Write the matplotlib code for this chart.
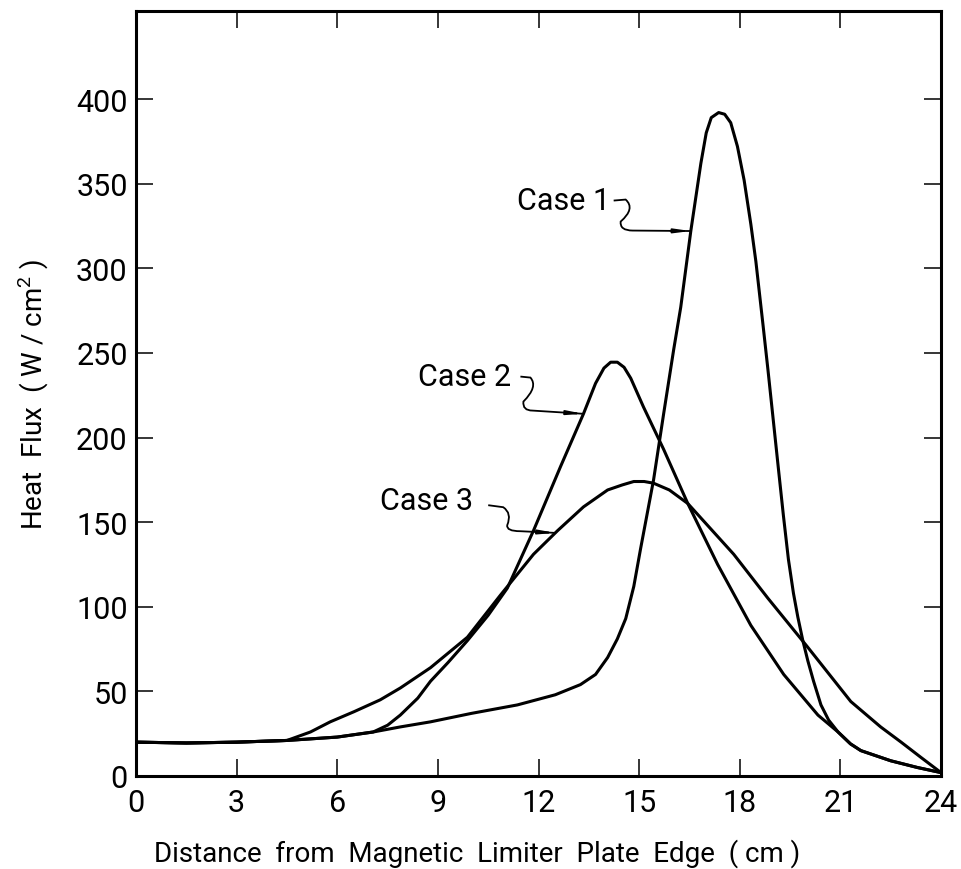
import numpy as np
import matplotlib
matplotlib.use("Agg")
import matplotlib.pyplot as plt
from matplotlib.path import Path
from matplotlib.patches import PathPatch

plt.rcParams['font.family'] = ['Roboto', 'DejaVu Sans']
plt.rcParams['mathtext.fontset'] = 'custom'
plt.rcParams['mathtext.rm'] = 'Roboto'

# distance from plate edge (cm) and heat flux (W/cm^2)
case1_x = [0, 1.5, 3, 4.5, 6, 7.07, 7.88, 8.78, 10, 11.37, 12.5, 13.25, 13.7, 14.06, 14.35,
           14.6, 14.84, 15.04, 15.43, 15.73, 16.03, 16.24, 16.54, 16.84, 17.0, 17.15, 17.37,
           17.55, 17.73, 17.93, 18.13, 18.33, 18.48, 18.69, 18.84, 19.0, 19.16, 19.3, 19.45,
           19.6, 19.73, 19.88, 20.03, 20.2, 20.42, 20.65, 20.93, 21.3, 21.61, 22.5, 23.3, 24]
case1_y = [20, 19.5, 20, 21, 23, 26, 29, 32, 37, 42, 48, 54, 60, 70, 81,
           93, 112, 134, 175, 214, 252, 277, 322, 362, 380, 389, 392,
           391, 386, 372, 352, 326, 304, 267, 240, 210, 180, 154, 128,
           108, 94, 80, 68, 56, 42, 33, 26, 19, 15, 9, 5, 2]

case2_x = [0, 1.5, 3, 4.5, 6, 7.07, 7.5, 7.88, 8.4, 8.78, 9.3, 9.88, 10.5, 11.07, 11.85,
           12.66, 13.34, 13.7, 13.95, 14.15, 14.35, 14.55, 14.75, 15.13, 15.73, 16.45, 17.34,
           18.33, 19.31, 20.33, 20.93, 21.3, 21.61, 22.5, 23.3, 24]
case2_y = [20, 19.5, 20, 21, 23, 26, 30, 36, 46, 56, 67, 80, 95, 111, 145,
           183, 214, 232, 241, 244.5, 244.5, 241.5, 235, 218, 193, 161, 125,
           89, 60, 36, 26, 19, 15, 9, 5, 2]

case3_x = [0, 1.5, 3, 4.5, 5.2, 5.79, 6.5, 7.28, 7.88, 8.78, 9.88, 10.87, 11.85, 12.57,
           13.34, 14.06, 14.5, 14.84, 15.15, 15.43, 15.9, 16.45, 17.82, 18.84, 20.03, 21.31,
           22.2, 22.81, 23.4, 24]
case3_y = [20, 19.5, 20, 21, 26, 32, 38, 45, 52, 64, 82, 107, 131, 145,
           159, 169, 172, 174, 174, 173, 169, 161, 131, 105, 76, 44,
           29, 20, 11, 2]

x_ticks = [0, 3, 6, 9, 12, 15, 18, 21, 24]
y_ticks = [0, 50, 100, 150, 200, 250, 300, 350, 400]

fig = plt.figure(figsize=(9.62, 8.7), dpi=100)
ax = fig.add_axes([0.1414, 0.1069, 0.8368, 0.8793])

lw = 2.2
for xs, ys in [(case1_x, case1_y), (case2_x, case2_y), (case3_x, case3_y)]:
    ax.plot(xs, ys, color='black', lw=lw, solid_joinstyle='round', solid_capstyle='round')

ax.set_xlim(0, 24)
ax.set_ylim(0, 452)
ax.set_xticks(x_ticks)
ax.set_yticks(y_ticks)
ax.tick_params(direction='in', length=12, width=1.1, top=True, right=True,
               labelsize=22)
ax.tick_params(axis='x', pad=9)
ax.tick_params(axis='y', pad=6)
for s in ax.spines.values():
    s.set_linewidth(2.2)

ax.set_xlabel('Distance  from  Magnetic  Limiter  Plate  Edge  ( cm )',
              fontsize=20, labelpad=15)
ax.xaxis.label.set_x(0.424)
ax.set_ylabel('Heat  Flux  ( W / cm$^2$ )', fontsize=20, labelpad=18)

# pixel -> data scale for drawing the squiggly leaders
sx = 805 / 24.0
sy = 765 / 452.0


def leader(start, xs, ys, x_end, wig):
    x0, y0 = start
    pts = [(x0 + px / sx, y0 - py / sy) for px, py in wig]
    end = (x_end, np.interp(x_end, xs, ys))
    verts = [(x0, y0), pts[0], pts[1], pts[2], pts[3], pts[4], end]
    codes = [Path.MOVETO, Path.LINETO, Path.CURVE3, Path.CURVE3, Path.CURVE3, Path.CURVE3, Path.LINETO]
    ax.add_patch(PathPatch(Path(verts, codes), fill=False, lw=1.3, color='black'))
    # thin arrow head at the end of the leader
    f = 0.35
    back = (end[0] - f * (end[0] - pts[4][0]), end[1] - f * (end[1] - pts[4][1]))
    ax.annotate('', xy=end, xytext=back,
                arrowprops=dict(arrowstyle='-|>,head_length=0.9,head_width=0.12',
                                lw=1.3, color='black', shrinkA=0, shrinkB=0))


ax.text(11.37, 340, 'Case 1', fontsize=22, va='center', ha='left')
leader((14.24, 340), case1_x, case1_y, 16.54,
       [(12, -1), (22, 8), (7, 21), (6, 30), (19, 30)])

ax.text(8.42, 236, 'Case 2', fontsize=22, va='center', ha='left')
leader((11.46, 236), case2_x, case2_y, 13.34,
       [(10, 1), (18, 10), (3, 25), (2, 34), (12, 34)])

ax.text(7.28, 163, 'Case 3', fontsize=22, va='center', ha='left')
leader((10.5, 160), case3_x, case3_y, 12.5,
       [(15, 2), (24, 8), (19, 20), (18, 26), (32, 26)])

fig.savefig('out.png', dpi=100)
